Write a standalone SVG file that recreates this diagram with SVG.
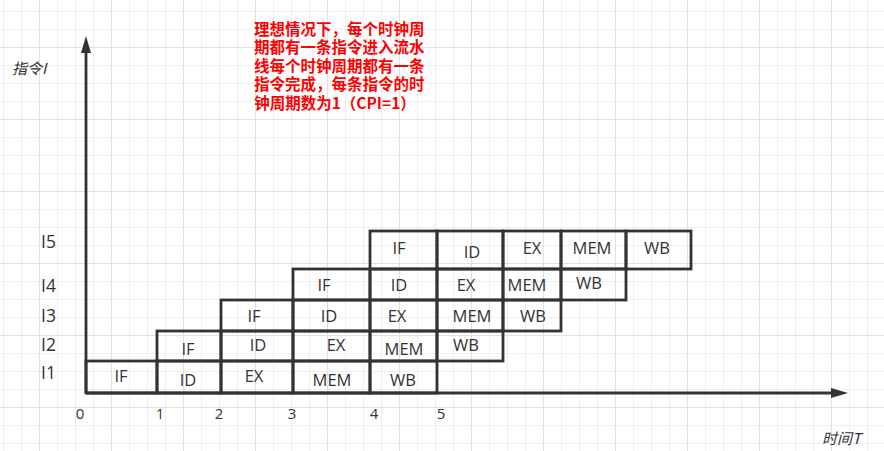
<svg xmlns="http://www.w3.org/2000/svg" width="884" height="451" viewBox="0 0 884 451">
<defs>
<pattern id="minor" width="18" height="18" patternUnits="userSpaceOnUse" x="3" y="11"><path d="M0.5,0V18M0,0.5H18" stroke="#efefef" stroke-width="1" fill="none"/></pattern>
<pattern id="major" width="72" height="72" patternUnits="userSpaceOnUse" x="39" y="47"><path d="M0.5,0V72M0,0.5H72" stroke="#e1e1e1" stroke-width="1" fill="none"/></pattern>
<marker id="arr" viewBox="0 0 17 10" refX="0" refY="5" markerWidth="17" markerHeight="10" markerUnits="userSpaceOnUse" orient="auto"><path d="M0,0L17,5L0,10z" fill="#333"/></marker>
<style>
.cell rect{fill:none;stroke:#333;stroke-width:2.8}
.st{font-family:"Open Sans","Liberation Sans",sans-serif;font-size:16.5px;fill:#333;text-anchor:middle}
.row{font-family:"Open Sans","Liberation Sans",sans-serif;font-size:17.5px;fill:#333}
.num{font-family:"Open Sans","Liberation Sans",sans-serif;font-size:15px;fill:#333;text-anchor:middle}
.ax{font-family:"Noto Sans CJK SC","Open Sans",sans-serif;font-size:15px;fill:#333;font-style:italic}
.note{font-family:"Noto Sans CJK SC","Open Sans",sans-serif;font-size:15.5px;font-weight:bold;fill:#ff0000}
</style>
</defs>
<rect width="884" height="451" fill="#fff"/>
<rect width="884" height="451" fill="url(#minor)"/>
<rect width="884" height="451" fill="url(#major)"/>

<g id="connectors">
<line x1="86" y1="393" x2="86" y2="53" stroke="#333" stroke-width="2.8" marker-end="url(#arr)"/>
<line x1="86" y1="393" x2="831" y2="393" stroke="#333" stroke-width="2.8" marker-end="url(#arr)"/>
</g>

<g id="row-I1" class="cell">
<rect x="86" y="361" width="71" height="32"/><rect x="157" y="361" width="64" height="32"/><rect x="221" y="361" width="72" height="32"/><rect x="293" y="361" width="77" height="32"/><rect x="370" y="361" width="67" height="32"/>
<text class="st" x="121" y="381.5">IF</text><text class="st" x="188" y="386">ID</text><text class="st" x="254" y="382">EX</text><text class="st" x="332" y="386">MEM</text><text class="st" x="403" y="386">WB</text>
</g>
<g id="row-I2" class="cell">
<rect x="157" y="331" width="64" height="30"/><rect x="221" y="331" width="72" height="30"/><rect x="293" y="331" width="77" height="30"/><rect x="370" y="331" width="67" height="30"/><rect x="437" y="331" width="66" height="30"/>
<text class="st" x="188" y="355">IF</text><text class="st" x="258" y="351">ID</text><text class="st" x="336" y="351">EX</text><text class="st" x="404" y="355">MEM</text><text class="st" x="466" y="351">WB</text>
</g>
<g id="row-I3" class="cell">
<rect x="221" y="300" width="72" height="31"/><rect x="293" y="300" width="77" height="31"/><rect x="370" y="300" width="67" height="31"/><rect x="437" y="300" width="66" height="31"/><rect x="503" y="300" width="58" height="31"/>
<text class="st" x="254" y="322">IF</text><text class="st" x="329" y="322">ID</text><text class="st" x="397" y="322">EX</text><text class="st" x="472" y="322">MEM</text><text class="st" x="533" y="322">WB</text>
</g>
<g id="row-I4" class="cell">
<rect x="293" y="269" width="77" height="31"/><rect x="370" y="269" width="67" height="31"/><rect x="437" y="269" width="66" height="31"/><rect x="503" y="269" width="58" height="31"/><rect x="561" y="269" width="65" height="31"/>
<text class="st" x="324" y="291">IF</text><text class="st" x="399" y="291">ID</text><text class="st" x="466" y="291">EX</text><text class="st" x="527" y="291">MEM</text><text class="st" x="589" y="289">WB</text>
</g>
<g id="row-I5" class="cell">
<rect x="370" y="231" width="67" height="38"/><rect x="437" y="231" width="66" height="38"/><rect x="503" y="231" width="58" height="38"/><rect x="561" y="231" width="65" height="38"/><rect x="626" y="231" width="65" height="38"/>
<text class="st" x="399" y="254">IF</text><text class="st" x="472" y="258">ID</text><text class="st" x="532" y="254">EX</text><text class="st" x="592" y="254">MEM</text><text class="st" x="657" y="254">WB</text>
</g>

<g id="row-labels">
<text class="row" x="41" y="379.3">I1</text>
<text class="row" x="41" y="351">I2</text>
<text class="row" x="41" y="322.3">I3</text>
<text class="row" x="41" y="291.5">I4</text>
<text class="row" x="41" y="248.3">I5</text>
</g>

<g id="ticks">
<text class="num" x="80" y="419">0</text>
<text class="num" x="160" y="419">1</text>
<text class="num" x="219" y="419">2</text>
<text class="num" x="292" y="419">3</text>
<text class="num" x="374" y="419">4</text>
<text class="num" x="441" y="419">5</text>
</g>

<g id="axis-labels">
<text class="ax" x="12" y="73.5">指令I</text>
<text class="ax" x="822" y="443.5">时间T</text>
</g>

<g id="note">
<text class="note" x="254" y="34.5">理想情况下，每个时钟周</text>
<text class="note" x="254" y="53">期都有一条指令进入流水</text>
<text class="note" x="254" y="71.5">线每个时钟周期都有一条</text>
<text class="note" x="254" y="90">指令完成，每条指令的时</text>
<text class="note" x="335" y="108.5" text-anchor="middle">钟周期数为1（CPI=1）</text>
</g>
</svg>
